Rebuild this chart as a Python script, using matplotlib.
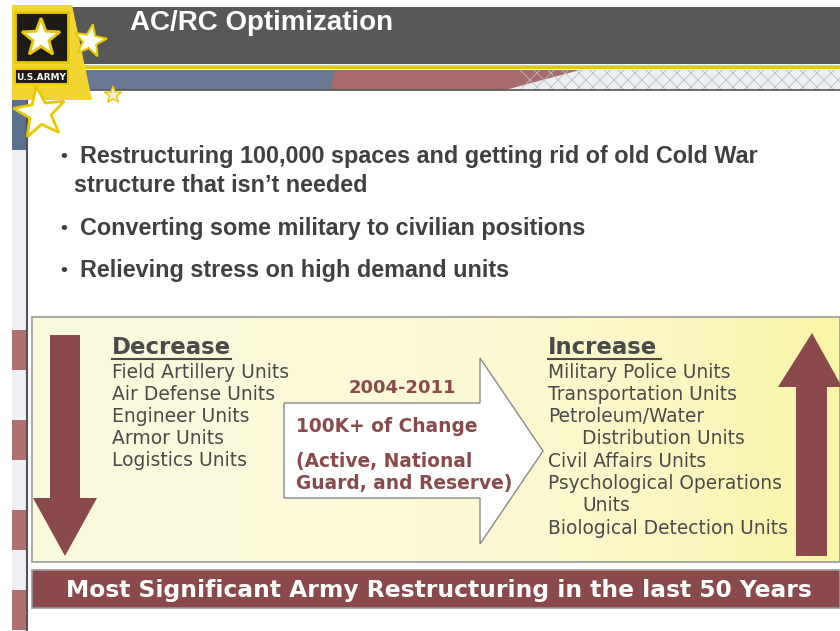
import numpy as np
import matplotlib
matplotlib.use("Agg")
import matplotlib.pyplot as plt
from matplotlib.patches import Rectangle, Polygon

# slide content
title = "AC/RC Optimization"
bullets = [
    ["Restructuring 100,000 spaces and getting rid of old Cold War",
     "structure that isn\u2019t needed"],
    ["Converting some military to civilian positions"],
    ["Relieving stress on high demand units"],
]
decrease_head = "Decrease"
decrease_items = ["Field Artillery Units", "Air Defense Units", "Engineer Units",
                  "Armor Units", "Logistics Units"]
increase_head = "Increase"
increase_items = [("Military Police Units", 0), ("Transportation Units", 0),
                  ("Petroleum/Water", 0), ("Distribution Units", 1),
                  ("Civil Affairs Units", 0), ("Psychological Operations", 0),
                  ("Units", 1), ("Biological Detection Units", 0)]
years = "2004-2011"
change_lines = ["100K+ of Change", "(Active, National", "Guard, and Reserve)"]
banner = "Most Significant Army Restructuring in the last 50 Years"

maroon = "#8a4a4b"
gray_text = "#4a4a4a"
bullet_col = "#404040"

fig = plt.figure(figsize=(8.4, 6.31), dpi=100)
ax = fig.add_axes([0, 0, 1, 1])
ax.set_xlim(0, 840)
ax.set_ylim(631, 0)
ax.axis("off")

def star(cx, cy, r, fc, ec, lw=1.5, rot=0):
    pts = []
    for i in range(10):
        rr = r if i % 2 == 0 else r * 0.42
        a = np.deg2rad(-90 + rot + i * 36)
        pts.append((cx + rr * np.cos(a), cy + rr * np.sin(a)))
    ax.add_patch(Polygon(pts, closed=True, fc=fc, ec=ec, lw=lw, zorder=6))

# left flag strip
ax.add_patch(Rectangle((12, 90), 15, 541, fc="#eef0f4", ec="none"))
ax.add_patch(Rectangle((12, 90), 15, 60, fc="#5b6f8e", ec="none"))
for y0 in [330, 420, 510, 590]:
    ax.add_patch(Rectangle((12, y0), 15, 40, fc="#b07070", ec="none"))
ax.plot([27, 27], [90, 631], color="#555555", lw=1.5)

# header band
ax.add_patch(Polygon([(60, 7), (840, 7), (840, 64), (75, 64)], fc="#585858", ec="none"))
ax.add_patch(Rectangle((20, 66), 820, 3, fc="#e6c800", ec="none"))
ax.add_patch(Rectangle((20, 70), 820, 20, fc="#eceef2", ec="none"))
ax.add_patch(Polygon([(20, 70), (350, 70), (330, 90), (20, 90)], fc="#6a7894", ec="none"))
ax.add_patch(Polygon([(335, 70), (580, 70), (505, 90), (330, 90)], fc="#a86a6a", ec="none"))
for xx in range(520, 840, 14):
    ax.plot([xx, xx + 20], [90, 70], color="#b8bcc8", lw=0.6)
    ax.plot([xx, xx + 20], [70, 90], color="#b8bcc8", lw=0.6)
ax.plot([20, 840], [90, 90], color="#555555", lw=1.2)
ax.plot([60, 840], [65, 65], color="#cccccc", lw=1.0)

# logo
ax.add_patch(Polygon([(12, 5), (72, 5), (92, 100), (12, 100)], fc="#f2d530", ec="none", zorder=4))
ax.add_patch(Rectangle((15, 12), 53, 50, fc="#1e1a14", ec="#e8c800", lw=2, zorder=5))
star(41, 38, 20, "white", "#e8c800", lw=2)
ax.add_patch(Rectangle((15, 69), 53, 15, fc="#1e1a14", ec="#e8c800", lw=1.5, zorder=5))
ax.text(41.5, 77, "U.S.ARMY", color="white", fontsize=6.5, fontweight="bold",
        ha="center", va="center", family="Liberation Sans Narrow", zorder=7)
star(90, 41, 17, "white", "#e8c800", lw=1.5, rot=10)
star(113, 95, 9, "#f5f0d0", "#e8c800", lw=1)
star(40, 113, 27, "white", "#e8c800", lw=2, rot=-8)

ax.text(130, 23, title, color="white", fontsize=20, fontweight="bold",
        ha="left", va="center", family="Liberation Sans", zorder=7)

# bullets
by = [157, 229, 270]
for y, lines in zip(by, bullets):
    ax.text(60, y, "\u2022", color=bullet_col, fontsize=14, fontweight="bold",
            va="center", family="Liberation Sans")
    for k, line in enumerate(lines):
        ax.text(80 if k == 0 else 74, y + 28 * k, line, color=bullet_col,
                fontsize=16.8, fontweight="bold", va="center", family="Liberation Sans")

# yellow box with gradient
grad = np.linspace(0, 1, 256) ** 3
c0 = np.array([252, 250, 220]) / 255
c1 = np.array([250, 244, 165]) / 255
img = c0[None, :] + (c1 - c0)[None, :] * grad[:, None]
ax.imshow(img[None, :, :], extent=(32, 840, 562, 317), aspect="auto", zorder=1)
ax.add_patch(Rectangle((32, 317), 808, 245, fc="none", ec="#9a9a9a", lw=1.2, zorder=2))

# down arrow
ax.add_patch(Polygon([(50, 335), (80, 335), (80, 498), (97, 498), (65, 556),
                      (33, 498), (50, 498)], fc=maroon, ec="none", zorder=3))
# up arrow
ax.add_patch(Polygon([(796, 556), (827, 556), (827, 387), (842, 387), (812, 333),
                      (778, 387), (796, 387)], fc=maroon, ec="none", zorder=3))

# centre arrow
ax.add_patch(Polygon([(284, 403), (480, 403), (480, 358), (543, 451), (480, 544),
                      (480, 498), (284, 498)], fc="white", ec="#8a8a8a", lw=1.0, zorder=3))

ax.text(112, 347, decrease_head, color=gray_text, fontsize=16.4, fontweight="bold",
        va="center", family="DejaVu Sans", zorder=5)
ax.plot([112, 231], [359, 359], color=gray_text, lw=1.5, zorder=5)
for i, item in enumerate(decrease_items):
    ax.text(112, 372 + 22.2 * i, item, color=gray_text, fontsize=13.5,
            va="center", family="DejaVu Sans", zorder=5)

ax.text(548, 347, increase_head, color=gray_text, fontsize=16.4, fontweight="bold",
        va="center", family="DejaVu Sans", zorder=5)
ax.plot([548, 661], [359, 359], color=gray_text, lw=1.5, zorder=5)
for i, (item, indent) in enumerate(increase_items):
    ax.text(548 + 34 * indent, 372 + 22.3 * i, item, color=gray_text, fontsize=13.4,
            va="center", family="DejaVu Sans", zorder=5)

ax.text(402, 388, years, color=maroon, fontsize=13, fontweight="bold",
        ha="center", va="center", family="DejaVu Sans", zorder=5)
for y, line in zip([427, 461, 484], change_lines):
    ax.text(296, y, line, color=maroon, fontsize=13.4, fontweight="bold",
            va="center", family="DejaVu Sans", zorder=5)

# bottom banner
ax.add_patch(Rectangle((32, 570), 808, 38, fc=maroon, ec="#9a9a9a", lw=1.2, zorder=3))
ax.text(439, 590, banner, color="white", fontsize=16.8, fontweight="bold",
        ha="center", va="center", family="DejaVu Sans", zorder=5)

fig.savefig("out.png", dpi=100)
